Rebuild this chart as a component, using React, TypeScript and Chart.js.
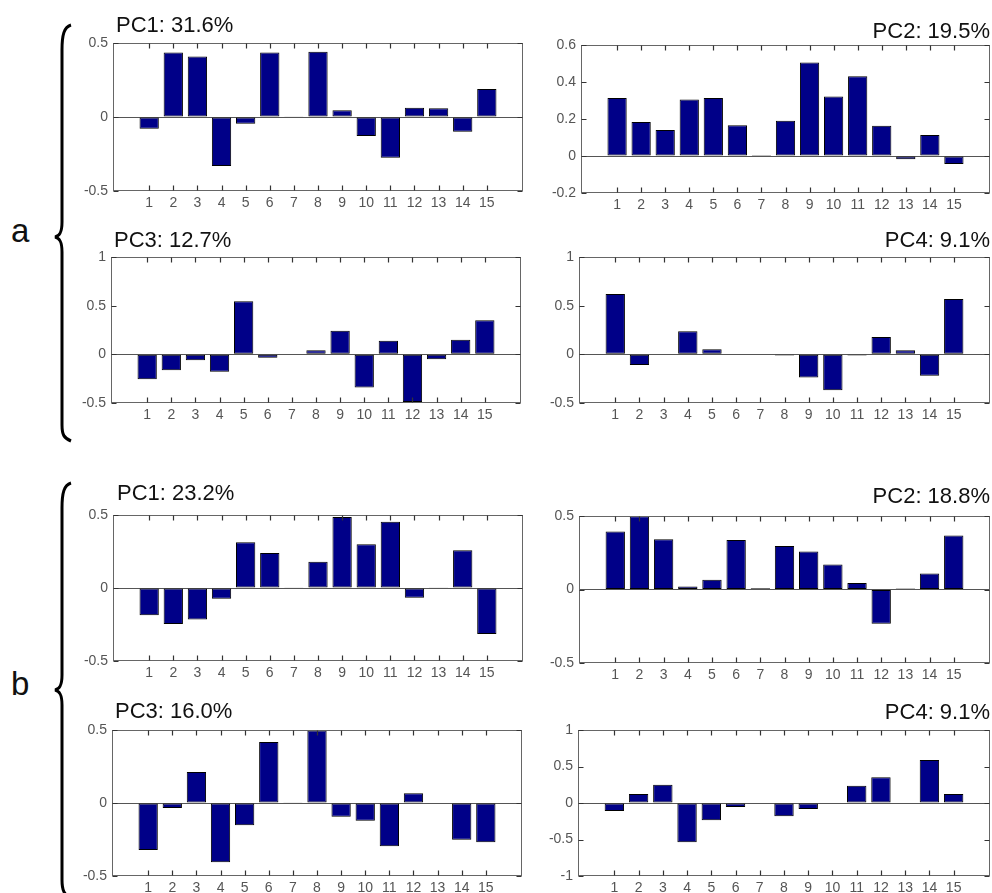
import { useEffect, useRef } from 'react';
import { Chart, registerables } from 'chart.js';

Chart.register(...registerables);

// ---------- data ----------
const categories = [1, 2, 3, 4, 5, 6, 7, 8, 9, 10, 11, 12, 13, 14, 15];

const aPC1 = [-0.08, 0.435, 0.408, -0.331, -0.045, 0.435, 0.005, 0.441, 0.045, -0.128, -0.275, 0.063, 0.059, -0.1, 0.19];
const aPC2 = [0.313, 0.184, 0.14, 0.306, 0.313, 0.166, 0.005, 0.191, 0.505, 0.321, 0.431, 0.164, -0.018, 0.114, -0.043];
const aPC3 = [-0.257, -0.164, -0.062, -0.178, 0.545, -0.034, 0, 0.041, 0.243, -0.342, 0.14, -0.49, -0.051, 0.151, 0.349];
const aPC4 = [0.62, -0.11, 0, 0.238, 0.052, 0, 0, -0.012, -0.238, -0.369, -0.012, 0.179, 0.041, -0.221, 0.569];
const bPC1 = [-0.187, -0.247, -0.215, -0.073, 0.313, 0.24, 0.005, 0.18, 0.486, 0.299, 0.454, -0.066, 0.005, 0.258, -0.315];
const bPC2 = [0.394, 0.498, 0.342, 0.02, 0.066, 0.337, 0.008, 0.296, 0.258, 0.17, 0.045, -0.233, 0.006, 0.109, 0.367];
const bPC3 = [-0.322, -0.034, 0.212, -0.406, -0.153, 0.418, 0.005, 0.497, -0.094, -0.121, -0.297, 0.066, 0.004, -0.251, -0.269];
const bPC4 = [-0.11, 0.123, 0.251, -0.539, -0.237, -0.055, 0, -0.183, -0.082, 0, 0.237, 0.352, 0, 0.589, 0.123];

const titles = ['PC1: 31.6%', 'PC2: 19.5%', 'PC3: 12.7%', 'PC4: 9.1%', 'PC1: 23.2%', 'PC2: 18.8%', 'PC3: 16.0%', 'PC4: 9.1%'];
const seriesList = [aPC1, aPC2, aPC3, aPC4, bPC1, bPC2, bPC3, bPC4];
const yMins = [-0.5, -0.2, -0.5, -0.5, -0.5, -0.5, -0.5, -1];
const yMaxs = [0.5, 0.6, 1, 1, 0.5, 0.5, 0.5, 1];
const ySteps = [0.5, 0.2, 0.5, 0.5, 0.5, 0.5, 0.5, 0.5];
const groupLabels = ['a', 'b'];

// ---------- layout (page pixels) ----------
type Layout = { box: [number, number, number, number]; align: 'left' | 'right'; gap: number; dx: number };
const layouts: Layout[] = [
  { box: [113, 43, 523, 191], align: 'left', gap: 11, dx: 3 },
  { box: [581, 45, 990, 193], align: 'right', gap: 7, dx: 0 },
  { box: [111, 257, 521, 403], align: 'left', gap: 10, dx: 3 },
  { box: [579, 257, 990, 403], align: 'right', gap: 10, dx: 0 },
  { box: [113, 515, 523, 661], align: 'left', gap: 15, dx: 4 },
  { box: [579, 516, 990, 663], align: 'right', gap: 13, dx: 0 },
  { box: [112, 730, 522, 876], align: 'left', gap: 12, dx: 3 },
  { box: [578, 730, 990, 876], align: 'right', gap: 11, dx: 0 },
];

const FONT = '"Liberation Sans", Arial, Helvetica, sans-serif';
const AX_W = 52;
const AX_H = 24;
const PAD_T = 36;
const PAD_R = 4;

const framePlugin = {
  id: 'matlabFrame',
  afterDraw(chart: any, _args: any, opts: any) {
    const { ctx, chartArea } = chart;
    const xs = chart.scales.x;
    const ys = chart.scales.y;
    const l = Math.round(chartArea.left) + 0.5;
    const r = Math.round(chartArea.right) - 0.5;
    const t = Math.round(chartArea.top) + 0.5;
    const b = Math.round(chartArea.bottom) - 0.5;
    ctx.save();
    ctx.strokeStyle = '#666';
    ctx.lineWidth = 1;
    ctx.strokeRect(l, t, r - l, b - t);
    // inward ticks
    ctx.strokeStyle = '#333';
    ctx.lineWidth = 1.2;
    ctx.beginPath();
    const tl = 5;
    categories.forEach((c) => {
      const px = Math.round(xs.getPixelForValue(c)) + 0.5;
      ctx.moveTo(px, b);
      ctx.lineTo(px, b - tl);
      ctx.moveTo(px, t);
      ctx.lineTo(px, t + tl);
    });
    ys.ticks.forEach((tk: any) => {
      const py = Math.round(ys.getPixelForValue(tk.value)) + 0.5;
      ctx.moveTo(l, py);
      ctx.lineTo(l + tl, py);
      ctx.moveTo(r, py);
      ctx.lineTo(r - tl, py);
    });
    ctx.stroke();
    // title
    ctx.font = `22px ${FONT}`;
    ctx.fillStyle = '#111';
    ctx.textBaseline = 'alphabetic';
    if (opts.align === 'left') {
      ctx.textAlign = 'left';
      ctx.fillText(opts.text, chartArea.left + opts.dx, chartArea.top - opts.gap);
    } else {
      ctx.textAlign = 'right';
      ctx.fillText(opts.text, chartArea.right, chartArea.top - opts.gap);
    }
    ctx.restore();
  },
};

function Panel({ idx }: { idx: number }) {
  const ref = useRef<HTMLCanvasElement>(null);
  const lay = layouts[idx];
  const [l, t, r, b] = lay.box;
  const W = r - l + AX_W + PAD_R;
  const H = PAD_T + (b - t) + AX_H;

  useEffect(() => {
    const values = seriesList[idx];
    const chart = new Chart(ref.current as HTMLCanvasElement, {
      type: 'bar',
      data: {
        datasets: [
          {
            data: categories.map((c, i) => ({ x: c, y: values[i] })),
            backgroundColor: '#000088',
            borderColor: '#000000',
            borderWidth: 1,
            borderSkipped: false,
            barPercentage: 0.8,
            categoryPercentage: 1,
          },
        ],
      },
      options: {
        responsive: false,
        animation: false,
        layout: { padding: { top: PAD_T, right: PAD_R, left: 0, bottom: 0 } },
        plugins: {
          legend: { display: false },
          tooltip: { enabled: false },
          matlabFrame: { text: titles[idx], align: lay.align, gap: lay.gap, dx: lay.dx },
        } as any,
        scales: {
          x: {
            type: 'linear',
            min: 0,
            max: 16,
            grid: { display: false, drawTicks: false },
            border: { display: false },
            ticks: {
              stepSize: 1,
              autoSkip: false,
              maxRotation: 0,
              padding: 4,
              color: '#555',
              font: { family: FONT, size: 14 },
              callback: (v: any) => (v >= 1 && v <= 15 ? String(v) : ''),
            },
            afterFit: (s: any) => {
              s.height = AX_H;
            },
          },
          y: {
            min: yMins[idx],
            max: yMaxs[idx],
            grid: {
              drawTicks: false,
              color: (c: any) => (c.tick && Math.abs(c.tick.value) < 1e-9 ? '#555' : 'rgba(0,0,0,0)'),
            },
            border: { display: false },
            ticks: {
              stepSize: ySteps[idx],
              padding: 5,
              color: '#555',
              font: { family: FONT, size: 14 },
              callback: (v: any) => String(Math.round(Number(v) * 10) / 10),
            },
            afterFit: (s: any) => {
              s.width = AX_W;
            },
          },
        },
      },
      plugins: [framePlugin],
    });
    return () => chart.destroy();
  }, [idx]);

  return (
    <canvas
      ref={ref}
      width={W}
      height={H}
      style={{ position: 'absolute', left: l - AX_W, top: t - PAD_T, width: W, height: H }}
    />
  );
}

export default function App() {
  return (
    <div
      style={{
        position: 'absolute',
        left: 0,
        top: 0,
        width: 992,
        height: 893,
        overflow: 'hidden',
        background: '#fff',
        fontFamily: FONT,
      }}
    >
      <svg width={992} height={893} style={{ position: 'absolute', left: 0, top: 0 }}>
        <path
          d="M 71 25 C 64 27, 62 35, 62 50 L 62 222 C 62 232, 60 236, 55 237 C 60 238, 62 242, 62 252 L 62 425 C 62 435, 64 438, 71 441"
          fill="none"
          stroke="#000"
          strokeWidth={3}
        />
        <path
          d="M 71 483 C 64 485, 62 493, 62 508 L 62 675 C 62 685, 60 689, 55 690 C 60 691, 62 695, 62 705 L 62 880 C 62 890, 64 895, 71 898"
          fill="none"
          stroke="#000"
          strokeWidth={3}
        />
      </svg>
      <div style={{ position: 'absolute', left: 11, top: 214, fontSize: 33, lineHeight: '33px', color: '#111' }}>
        {groupLabels[0]}
      </div>
      <div style={{ position: 'absolute', left: 11, top: 667, fontSize: 33, lineHeight: '33px', color: '#111' }}>
        {groupLabels[1]}
      </div>
      {layouts.map((_, i) => (
        <Panel key={i} idx={i} />
      ))}
    </div>
  );
}
